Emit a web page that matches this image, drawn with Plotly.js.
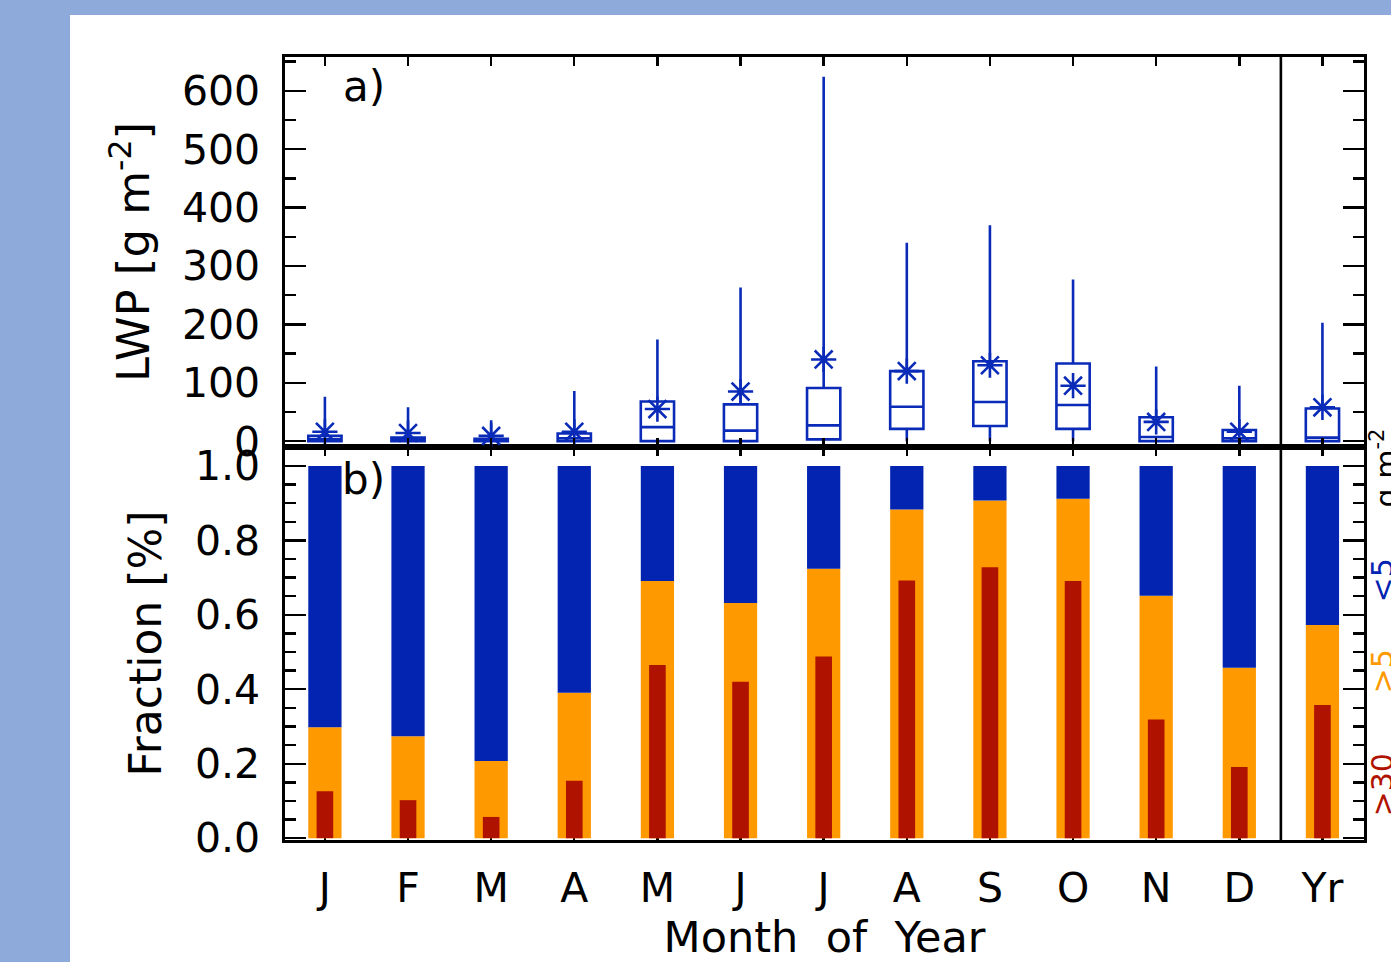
<!DOCTYPE html>
<html>
<head>
<meta charset="utf-8">
<script src="https://cdn.plot.ly/plotly-3.0.1.min.js"></script>
<style>
  html, body { margin: 0; padding: 0; background: #8eaadb; width: 1391px; height: 962px; overflow: hidden; }
  #chart { position: absolute; left: 70px; top: 15px; width: 1321px; height: 947px; background: #ffffff; }
</style>
</head>
<body>
<div id="chart"></div>
<script>
// ---- data ----
const monthLabels = ['J','F','M','A','M','J','J','A','S','O','N','D','Yr'];
const monthPos    = [1,2,3,4,5,6,7,8,9,10,11,12,13];

// Panel a) LWP box statistics [g m^-2]
const lwpUpper  = [76, 58, 36, 86, 174, 263, 624, 340, 370, 277, 128, 95, 203];
const lwpQ3     = [9, 6, 4, 13, 68, 63, 91, 120, 137, 133, 41, 19, 56];
const lwpMedian = [3, 2, 1, 5, 24, 18, 27, 59, 67, 62, 7, 5, 6];
const lwpQ1     = [0, 0, 0, 0, 0, 0, 3, 21, 26, 21, 0, 0, 0];
const lwpLower  = [0, 0, 0, 0, 0, 0, 0, 0, 0, 0, 0, 0, 0];
const lwpMean   = [16, 14, 9, 16, 55, 85, 140, 120, 130, 95, 33, 16, 58];

// Panel b) fractions
const fracGt5  = [0.298, 0.274, 0.207, 0.391, 0.691, 0.632, 0.724, 0.883, 0.907, 0.912, 0.651, 0.458, 0.573];
const fracLt5  = [0.702, 0.726, 0.793, 0.609, 0.309, 0.368, 0.276, 0.117, 0.093, 0.088, 0.349, 0.542, 0.427];
const fracGt30 = [0.126, 0.102, 0.057, 0.154, 0.465, 0.420, 0.488, 0.692, 0.728, 0.691, 0.319, 0.191, 0.358];

// ---- styles ----
const BLUE_LINE = '#0a2ab8';
const BLUE_BAR  = '#0224b0';
const ORANGE    = '#ff9900';
const RED       = '#b01200';
const FONT = 'DejaVu Sans, Liberation Sans, sans-serif';

const traces = [
  {
    type: 'box', x: monthPos, xaxis: 'x2', yaxis: 'y',
    q1: lwpQ1, median: lwpMedian, q3: lwpQ3,
    lowerfence: lwpLower, upperfence: lwpUpper,
    width: 0.4, whiskerwidth: 0, boxpoints: false,
    fillcolor: 'rgba(0,0,0,0)',
    line: { color: BLUE_LINE, width: 2.6 },
    showlegend: false, hoverinfo: 'skip'
  },
  {
    type: 'scatter', mode: 'markers', x: monthPos, y: lwpMean, xaxis: 'x2', yaxis: 'y',
    marker: { symbol: 'asterisk-open', size: 21, color: BLUE_LINE, line: { color: BLUE_LINE, width: 2.6 } },
    showlegend: false, hoverinfo: 'skip'
  },
  {
    type: 'bar', x: monthPos, y: fracGt5, xaxis: 'x', yaxis: 'y2', width: 0.4,
    marker: { color: ORANGE, line: { width: 0 } }, showlegend: false, hoverinfo: 'skip'
  },
  {
    type: 'bar', x: monthPos, y: fracLt5, base: fracGt5, xaxis: 'x', yaxis: 'y2', width: 0.4,
    marker: { color: BLUE_BAR, line: { width: 0 } }, showlegend: false, hoverinfo: 'skip'
  },
  {
    type: 'bar', x: monthPos, y: fracGt30, xaxis: 'x', yaxis: 'y2', width: 0.2,
    marker: { color: RED, line: { width: 0 } }, showlegend: false, hoverinfo: 'skip'
  }
];

const split = (840 - 447) / 783;
const axisCommon = {
  showline: true, linecolor: '#000', linewidth: 2.6, mirror: 'ticks',
  ticks: 'inside', tickcolor: '#000', tickwidth: 2.4,
  showgrid: false, zeroline: false,
  tickfont: { family: FONT, size: 41, color: '#000' }
};

const layout = {
  width: 1321, height: 947,
  margin: { l: 215, r: 27, t: 42, b: 122 },
  paper_bgcolor: '#ffffff', plot_bgcolor: '#ffffff',
  barmode: 'overlay',
  showlegend: false,
  xaxis: Object.assign({}, axisCommon, {
    anchor: 'y2', range: [0.52, 13.5],
    tickmode: 'array', tickvals: monthPos, ticktext: monthLabels,
    ticklen: 9, ticklabelstandoff: 10, layer: 'below traces',
    title: { text: 'Month&nbsp; of&nbsp; Year', font: { family: FONT, size: 43, color: '#000' }, standoff: 22 }
  }),
  xaxis2: Object.assign({}, axisCommon, {
    anchor: 'y', matches: 'x', range: [0.52, 13.5],
    tickmode: 'array', tickvals: monthPos, showticklabels: false, ticklen: 9
  }),
  yaxis: Object.assign({}, axisCommon, {
    domain: [split, 1], anchor: 'x2', range: [-10, 658],
    tickmode: 'linear', tick0: 0, dtick: 100, ticklen: 21, ticklabelstandoff: 14,
    minor: { ticks: 'inside', dtick: 50, tick0: 0, ticklen: 11, tickwidth: 2.4, tickcolor: '#000', showgrid: false },
    title: { text: 'LWP [g m<sup>-2</sup>]', font: { family: FONT, size: 45, color: '#000' }, standoff: 18 }
  }),
  yaxis2: Object.assign({}, axisCommon, {
    domain: [0, split], anchor: 'x', range: [-0.005, 1.051],
    tickmode: 'linear', tick0: 0, dtick: 0.2, tickformat: '.1f', ticklen: 21, ticklabelstandoff: 14,
    minor: { ticks: 'inside', dtick: 0.05, tick0: 0, ticklen: 11, tickwidth: 2.4, tickcolor: '#000', showgrid: false },
    title: { text: 'Fraction [%]', font: { family: FONT, size: 44, color: '#000' }, standoff: 20 }
  }),
  shapes: [
    { type: 'line', xref: 'x', yref: 'paper', x0: 12.5, x1: 12.5, y0: 0, y1: 1,
      line: { color: '#000', width: 2.6 } }
  ],
  annotations: [
    { text: 'a)', xref: 'x', yref: 'y', x: 1.47, y: 608, showarrow: false,
      font: { family: FONT, size: 42, color: '#000' } },
    { text: 'b)', xref: 'x', yref: 'y2', x: 1.47, y: 0.965, showarrow: false,
      font: { family: FONT, size: 42, color: '#000' } },
    { text: '&gt;30', xref: 'paper', yref: 'paper', x: 0.999, y: (840 - 785) / 783,
      xanchor: 'left', yanchor: 'middle', textangle: -90, showarrow: false,
      font: { family: FONT, size: 30, color: RED } },
    { text: '&gt;5', xref: 'paper', yref: 'paper', x: 0.999, y: (840 - 671) / 783,
      xanchor: 'left', yanchor: 'middle', textangle: -90, showarrow: false,
      font: { family: FONT, size: 30, color: ORANGE } },
    { text: '&lt;5', xref: 'paper', yref: 'paper', x: 0.999, y: (840 - 580) / 783,
      xanchor: 'left', yanchor: 'middle', textangle: -90, showarrow: false,
      font: { family: FONT, size: 30, color: BLUE_BAR } },
    { text: 'g m<sup>-2</sup>', xref: 'paper', yref: 'paper', x: 0.999, y: (840 - 468) / 783,
      xanchor: 'left', yanchor: 'middle', textangle: -90, showarrow: false,
      font: { family: FONT, size: 30, color: '#000' } }
  ]
};

Plotly.newPlot('chart', traces, layout, { staticPlot: true, displayModeBar: false });
</script>
</body>
</html>
